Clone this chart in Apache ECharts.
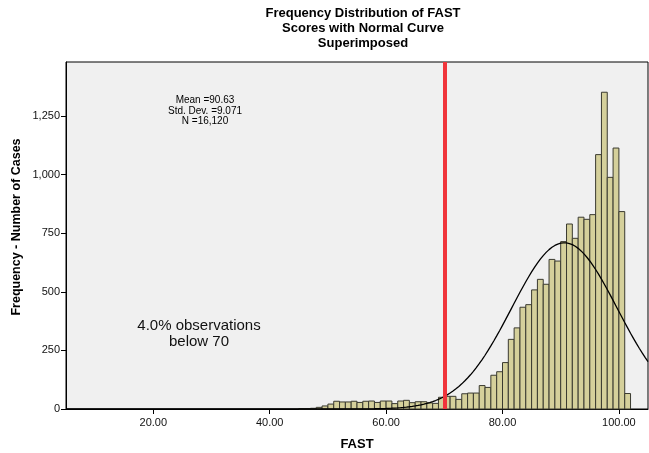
<!DOCTYPE html>
<html>
<head>
<meta charset="utf-8">
<script src="https://cdn.jsdelivr.net/npm/echarts@6/dist/echarts.min.js"></script>
<style>
  html, body { margin: 0; padding: 0; background: #fff; }
  #chart { width: 649px; height: 453px; }
</style>
</head>
<body>
<div id="chart"></div>
<script>
/* -------------------------------------------  Data  ------------------------------------------- */
const binStarts = [
  45, 46, 47, 48, 49, 50, 51, 52, 53, 54, 55, 56, 57, 58, 59, 60, 61, 62, 63,
  64, 65, 66, 67, 68, 69, 70, 71, 72, 73, 74, 75, 76, 77, 78, 79, 80, 81, 82,
  83, 84, 85, 86, 87, 88, 89, 90, 91, 92, 93, 94, 95, 96, 97, 98, 99, 100, 101,
];
const counts = [
  2, 2, 3, 7, 13, 21, 33, 30, 30, 33, 28, 33, 34, 28, 34, 34, 23, 34, 37,
  27, 31, 31, 26, 24, 50, 54, 54, 41, 65, 68, 68, 100, 92, 144, 159, 198, 297, 346,
  434, 445, 508, 553, 532, 638, 631, 714, 789, 728, 818, 809, 829, 1085, 1351, 988, 1113, 842, 66,
];
const binWidth = 1;
const xTicks = [20, 40, 60, 80, 100];
const yTicks = [0, 250, 500, 750, 1000, 1250];
const cutoff = 70;

// fitted normal curve parameters, as printed on the chart
const mean = 90.63;
const stdDev = 9.071;
const nCases = 16120;

/* -------------------------------------------  Series data  ------------------------------------------- */
const histData = binStarts.map((s, i) => [s, s + binWidth, counts[i]]);

const curveData = [];
for (let x = 5; x <= 105; x += 0.5) {
  const z = (x - mean) / stdDev;
  curveData.push([x, (nCases * binWidth) / (stdDev * Math.sqrt(2 * Math.PI)) * Math.exp(-0.5 * z * z)]);
}

/* -------------------------------------------  Chart  ------------------------------------------- */
const font = 'Arial, "Liberation Sans", sans-serif';
const chart = echarts.init(document.getElementById('chart'));

chart.setOption({
  animation: false,
  title: {
    text: 'Frequency Distribution of FAST\nScores with Normal Curve\nSuperimposed',
    left: 358,
    top: 1,
    textAlign: 'center',
    textStyle: { fontFamily: font, fontSize: 13, fontWeight: 'bold', lineHeight: 15, color: '#000' },
  },
  grid: {
    left: 66, right: 1, top: 62, bottom: 44,
    containLabel: false,
    outerBoundsMode: 'none',
    show: true, backgroundColor: '#f0f0f0', borderColor: '#000', borderWidth: 1,
  },
  xAxis: {
    type: 'value',
    min: 5,
    max: 105,
    name: 'FAST',
    nameLocation: 'middle',
    nameGap: 29,
    nameTextStyle: { fontFamily: font, fontSize: 13, fontWeight: 'bold', color: '#000' },
    splitLine: { show: false },
    axisLine: { lineStyle: { color: '#000' } },
    axisTick: { customValues: xTicks, length: 5, lineStyle: { color: '#000' } },
    axisLabel: {
      customValues: xTicks,
      formatter: (v) => v.toFixed(2),
      fontFamily: font, fontSize: 11, color: '#111', margin: 8,
    },
  },
  yAxis: {
    type: 'value',
    min: 0,
    max: 1480,
    splitLine: { show: false },
    axisLine: { show: true, lineStyle: { color: '#000' } },
    axisTick: { show: true, customValues: yTicks, length: 5, lineStyle: { color: '#000' } },
    axisLabel: {
      customValues: yTicks,
      formatter: (v) => v.toLocaleString('en-US'),
      fontFamily: font, fontSize: 11, color: '#111', margin: 6,
    },
  },
  graphic: [
    // y axis title, placed by hand (sits a bit above the axis middle in the original)
    {
      type: 'text', x: 17, y: 227, rotation: Math.PI / 2,
      style: {
        text: 'Frequency - Number of Cases',
        align: 'center', verticalAlign: 'middle',
        font: 'bold 12.5px ' + font, fill: '#000',
      },
    },
    {
      type: 'text', x: 205, y: 95,
      style: {
        text: 'Mean =90.63\nStd. Dev. =9.071\nN =16,120',
        align: 'center', font: '10px ' + font, lineHeight: 10.5, fill: '#000',
      },
    },
    {
      type: 'text', x: 199, y: 318,
      style: {
        text: '4.0% observations\nbelow 70',
        align: 'center', font: '15px ' + font, lineHeight: 16, fill: '#111',
      },
    },
  ],
  series: [
    {
      type: 'custom',
      data: histData,
      encode: { x: [0, 1], y: 2 },
      z: 2,
      renderItem: (params, api) => {
        const p0 = api.coord([api.value(0), api.value(2)]);
        const p1 = api.coord([api.value(1), 0]);
        return {
          type: 'rect',
          shape: { x: p0[0], y: p0[1], width: p1[0] - p0[0], height: p1[1] - p0[1] },
          style: { fill: '#d5d09b', stroke: '#3a3a30', lineWidth: 1 },
        };
      },
    },
    {
      type: 'line',
      data: curveData,
      showSymbol: false,
      z: 3,
      lineStyle: { color: '#000', width: 1.3 },
      markLine: {
        silent: true,
        symbol: 'none',
        label: { show: false },
        lineStyle: { color: '#f0353b', width: 4, type: 'solid' },
        data: [{ xAxis: cutoff }],
      },
    },
  ],
});
</script>
</body>
</html>
